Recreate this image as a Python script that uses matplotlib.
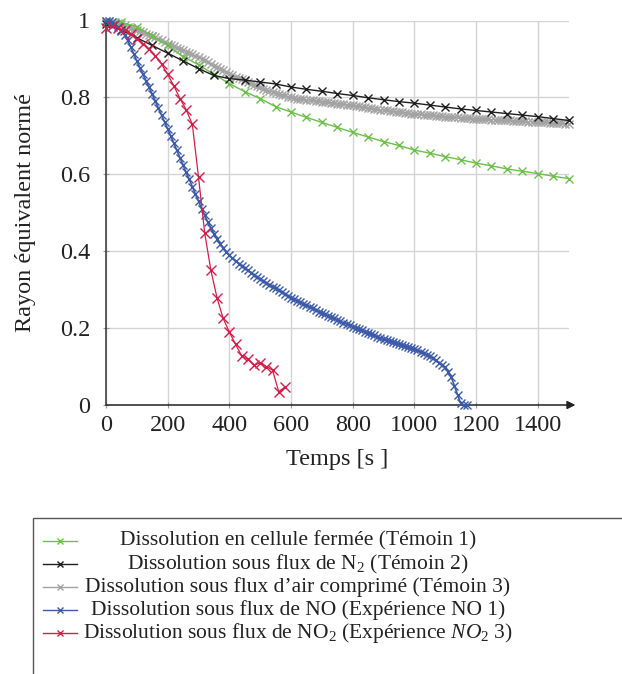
import numpy as np
import matplotlib
matplotlib.use("Agg")
import matplotlib.pyplot as plt
from matplotlib.lines import Line2D
from matplotlib.patches import Rectangle

plt.rcParams.update({
    "font.family": ["Liberation Serif", "DejaVu Serif"],
    "mathtext.fontset": "custom",
    "mathtext.rm": "Liberation Serif",
    "mathtext.it": "Liberation Serif:italic",
    "axes.unicode_minus": False,
})

# ---- data ----
t_temoin1 = np.arange(0, 1501, 50)
r_temoin1 = [0.995, 0.995, 0.984, 0.960, 0.935, 0.906, 0.885, 0.860, 0.836, 0.815,
             0.797, 0.776, 0.762, 0.748, 0.735, 0.722, 0.709, 0.697, 0.685, 0.675,
             0.663, 0.655, 0.646, 0.638, 0.629, 0.622, 0.614, 0.608, 0.602, 0.595,
             0.589]

t_temoin2 = np.arange(0, 1501, 50)
r_temoin2 = [0.990, 0.975, 0.955, 0.935, 0.915, 0.895, 0.875, 0.857, 0.849, 0.845,
             0.840, 0.835, 0.827, 0.821, 0.816, 0.810, 0.805, 0.799, 0.794, 0.789,
             0.785, 0.780, 0.775, 0.770, 0.766, 0.762, 0.758, 0.754, 0.750, 0.745,
             0.740]

t_temoin3 = np.arange(0, 1501, 10)
r_temoin3 = [1.000,
             0.999, 0.997, 0.995, 0.993, 0.990, 0.987, 0.984, 0.981, 0.978, 0.975,
             0.972, 0.969, 0.966, 0.963, 0.960, 0.956, 0.952, 0.948, 0.944, 0.940,
             0.936, 0.933, 0.929, 0.926, 0.922, 0.919, 0.915, 0.912, 0.908, 0.905,
             0.900, 0.896, 0.891, 0.887, 0.882, 0.878, 0.874, 0.870, 0.866, 0.862,
             0.858, 0.854, 0.851, 0.847, 0.843, 0.840, 0.836, 0.833, 0.829, 0.826,
             0.823, 0.820, 0.817, 0.815, 0.812, 0.809, 0.807, 0.805, 0.802, 0.800,
             0.799, 0.797, 0.796, 0.795, 0.794, 0.793, 0.792, 0.791, 0.790, 0.789,
             0.788, 0.787, 0.786, 0.785, 0.784, 0.783, 0.782, 0.781, 0.780, 0.779,
             0.778, 0.777, 0.775, 0.774, 0.773, 0.772, 0.771, 0.769, 0.768, 0.767,
             0.766, 0.765, 0.764, 0.763, 0.762, 0.761, 0.760, 0.759, 0.758, 0.757,
             0.756, 0.756, 0.755, 0.754, 0.754, 0.753, 0.752, 0.752, 0.751, 0.750,
             0.749, 0.749, 0.748, 0.748, 0.747, 0.747, 0.746, 0.746, 0.745, 0.745,
             0.744, 0.744, 0.743, 0.743, 0.742, 0.742, 0.741, 0.741, 0.740, 0.740,
             0.740, 0.739, 0.739, 0.738, 0.738, 0.738, 0.737, 0.737, 0.736, 0.736,
             0.736, 0.735, 0.735, 0.734, 0.734, 0.734, 0.733, 0.733, 0.732, 0.732]

t_no1 = np.arange(0, 1171, 10)
r_no1 = [1.000, 0.998, 0.995, 0.990, 0.982, 0.972, 0.962, 0.948, 0.932, 0.913,
         0.895, 0.877, 0.860, 0.843, 0.826, 0.808, 0.790, 0.772, 0.754, 0.736,
         0.718, 0.700, 0.681, 0.662, 0.643, 0.624, 0.605, 0.587, 0.568, 0.549,
         0.530, 0.511, 0.493, 0.476, 0.460, 0.445, 0.432, 0.420, 0.409, 0.399,
         0.390, 0.382, 0.375, 0.368, 0.362, 0.356, 0.350, 0.344, 0.338, 0.333,
         0.328, 0.323, 0.318, 0.313, 0.308, 0.303, 0.298, 0.293, 0.288, 0.284,
         0.279, 0.275, 0.271, 0.267, 0.263, 0.259, 0.255, 0.251, 0.247, 0.243,
         0.240, 0.236, 0.232, 0.228, 0.225, 0.221, 0.218, 0.214, 0.211, 0.207,
         0.204, 0.201, 0.198, 0.195, 0.191, 0.188, 0.185, 0.181, 0.177, 0.174,
         0.171, 0.168, 0.166, 0.163, 0.161, 0.158, 0.155, 0.153, 0.150, 0.147,
         0.145, 0.142, 0.139, 0.135, 0.131, 0.127, 0.122, 0.116, 0.110, 0.104,
         0.098, 0.087, 0.072, 0.050, 0.027, 0.005, 0.000, 0.000]

t_no2 = [0, 20, 40, 60, 80, 100, 120, 140, 160, 180, 200, 220, 240, 260, 280,
         300, 320, 340, 360, 380, 400, 420, 440, 460, 480, 500, 520, 540, 560, 580]
r_no2 = [0.980, 0.985, 0.980, 0.975, 0.965, 0.953, 0.940, 0.925, 0.908, 0.887,
         0.860, 0.830, 0.797, 0.768, 0.730, 0.593, 0.448, 0.351, 0.279, 0.225,
         0.190, 0.158, 0.128, 0.119, 0.104, 0.109, 0.100, 0.091, 0.035, 0.046]

labels = [
    "Dissolution en cellule fermée (Témoin 1)",
    r"Dissolution sous flux de $\mathrm{N}_2$ (Témoin 2)",
    "Dissolution sous flux d\u2019air comprimé (Témoin 3)",
    "Dissolution sous flux de NO (Expérience NO 1)",
    r"Dissolution sous flux de $\mathrm{NO}_2$ (Expérience $NO_2$ 3)",
]
x_ticks = [0, 200, 400, 600, 800, 1000, 1200, 1400]
y_ticks = [0, 0.2, 0.4, 0.6, 0.8, 1]
y_ticklabels = ["0", "0.2", "0.4", "0.6", "0.8", "1"]

GREEN = "#6cbf4a"
BLACK = "#1e1e1e"
GRAY = "#a3a3a3"
BLUE = "#3c5aa8"
RED = "#cf1f4b"
INK = "#222222"

W, H = 622, 674
fig = plt.figure(figsize=(W / 100, H / 100), dpi=100)
ax = fig.add_axes([106 / W, 1 - 405 / H, 462.5 / W, 384.5 / H])
ax.set_xlim(0, 1500)
ax.set_ylim(0, 1)

series = [
    (t_temoin3, r_temoin3, GRAY, 6, 1.0, 2),
    (t_temoin1, r_temoin1, GREEN, 6, 1.0, 3),
    (t_temoin2, r_temoin2, BLACK, 6, 1.0, 4),
    (t_no1, r_no1, BLUE, 6, 1.2, 5),
    (t_no2, r_no2, RED, 6.5, 0.9, 6),
]
for t, r, c, ms, lw, z in series:
    ax.plot(t, r, color=c, lw=lw, marker="x", ms=ms, mew=1.0, zorder=z, clip_on=False)

ax.set_xticks(x_ticks)
ax.set_yticks(y_ticks)
ax.set_yticklabels(y_ticklabels)
ax.grid(True, color="#d4d4d4", lw=1.0, zorder=0)
ax.set_axisbelow(True)
ax.tick_params(direction="inout", length=5, color="#9a9a9a", labelsize=17.5,
               labelcolor=INK)
ax.tick_params(axis="y", pad=9)
ax.tick_params(axis="x", pad=5)
for s in ["top", "right", "bottom"]:
    ax.spines[s].set_visible(False)
ax.spines["left"].set_color("#333333")
ax.spines["left"].set_linewidth(1.1)
ax.annotate("", xy=(1.015, 0), xytext=(0, 0), xycoords="axes fraction",
            arrowprops=dict(arrowstyle="-|>", color=INK, lw=1.1,
                            shrinkA=0, shrinkB=0, mutation_scale=12),
            zorder=1)

ax.set_xlabel("Temps [s ]", fontsize=17.5, color=INK, labelpad=9)
ax.set_ylabel("Rayon équivalent normé", fontsize=17.5, color=INK, labelpad=17)

# legend drawn by hand: centered text, box cut by the figure border
fig.add_artist(Rectangle((33 / W, -0.05), 1.0, 1 - 518 / H + 0.05,
                         transform=fig.transFigure, fill=False,
                         edgecolor="#555555", lw=1.0))
row_y = [541, 564, 587, 610, 633]
colors = [GREEN, BLACK, GRAY, BLUE, RED]
for yy, c, lab in zip(row_y, colors, labels):
    fy = 1 - yy / H
    fig.add_artist(Line2D([43 / W, 77 / W], [fy, fy], transform=fig.transFigure,
                          color=c, lw=1.0))
    fig.add_artist(Line2D([60 / W], [fy], transform=fig.transFigure, color=c,
                          marker="x", ms=4.5, mew=1.0))
    fig.text(298 / W, fy, lab, ha="center", va="center", fontsize=15.5,
             color=INK)

fig.savefig("out.png", dpi=100)
